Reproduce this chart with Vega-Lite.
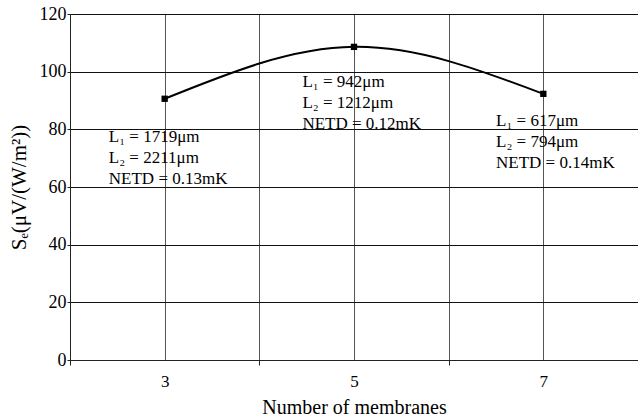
{
  "$schema": "https://vega.github.io/schema/vega-lite/v6.json",
  "width": 568,
  "height": 346,
  "autosize": "none",
  "padding": {"left": 70, "top": 14, "right": 0, "bottom": 56},
  "background": "white",
  "config": {
    "view": {"stroke": null},
    "font": "Liberation Serif",
    "axis": {"labelFont": "Liberation Serif", "titleFont": "Liberation Serif", "titleFontWeight": "normal", "labelColor": "black", "titleColor": "black", "domainColor": "#222", "tickColor": "#222", "gridColor": "#444", "gridOpacity": 1}
  },
  "datasets": {
    "pts": [
      {"n": 3, "s": 90.6},
      {"n": 5, "s": 108.6},
      {"n": 7, "s": 92.3}
    ],
    "notes": [
      {"n": 2.41, "s": 75.7, "t": "L₁ = 1719μm\nL₂ = 2211μm\nNETD = 0.13mK"},
      {"n": 4.455, "s": 94.7, "t": "L₁ = 942μm\nL₂ =  1212μm\nNETD = 0.12mK"},
      {"n": 6.5, "s": 81.2, "t": "L₁ = 617μm\nL₂ =  794μm\nNETD = 0.14mK"}
    ]
  },
  "layer": [
    {
      "data": {"name": "pts"},
      "mark": {"type": "line", "color": "black", "strokeWidth": 2, "interpolate": "natural"},
      "encoding": {
        "x": {
          "field": "n", "type": "quantitative",
          "scale": {"domain": [2, 8], "nice": false, "zero": false},
          "axis": {
            "values": [2, 3, 4, 5, 6, 7, 8],
            "format": "d",
            "labelExpr": "datum.value % 2 == 1 ? datum.label : ''",
            "tickOpacity": {"condition": {"test": "datum.value % 2 == 1", "value": 0}, "value": 1},
            "tickSize": 5,
            "labelFont": "Liberation Serif",
            "labelFontSize": 17,
            "labelPadding": 8,
            "title": "Number of membranes",
            "titleFontSize": 20,
            "titlePadding": 8,
            "grid": true,
            "gridColor": "#555"
          }
        },
        "y": {
          "field": "s", "type": "quantitative",
          "scale": {"domain": [0, 120], "nice": false},
          "axis": {
            "values": [0, 20, 40, 60, 80, 100, 120],
            "tickSize": 3,
            "labelFont": "Liberation Serif",
            "labelFontSize": 18,
            "labelPadding": 1,
            "title": "Sₑ(μV/(W/m²))",
            "titleFontSize": 21,
            "titlePadding": 10,
            "grid": true,
            "gridColor": "#111"
          }
        }
      }
    },
    {
      "data": {"name": "pts"},
      "mark": {"type": "point", "shape": "square", "filled": true, "color": "black", "size": 40, "opacity": 1},
      "encoding": {
        "x": {"field": "n", "type": "quantitative"},
        "y": {"field": "s", "type": "quantitative"}
      }
    },
    {
      "data": {"name": "notes"},
      "mark": {"type": "text", "align": "left", "baseline": "alphabetic", "fontSize": 17, "lineBreak": "\n", "lineHeight": 21, "color": "black", "font": "Liberation Serif"},
      "encoding": {
        "x": {"field": "n", "type": "quantitative"},
        "y": {"field": "s", "type": "quantitative"},
        "text": {"field": "t"}
      }
    }
  ]
}
